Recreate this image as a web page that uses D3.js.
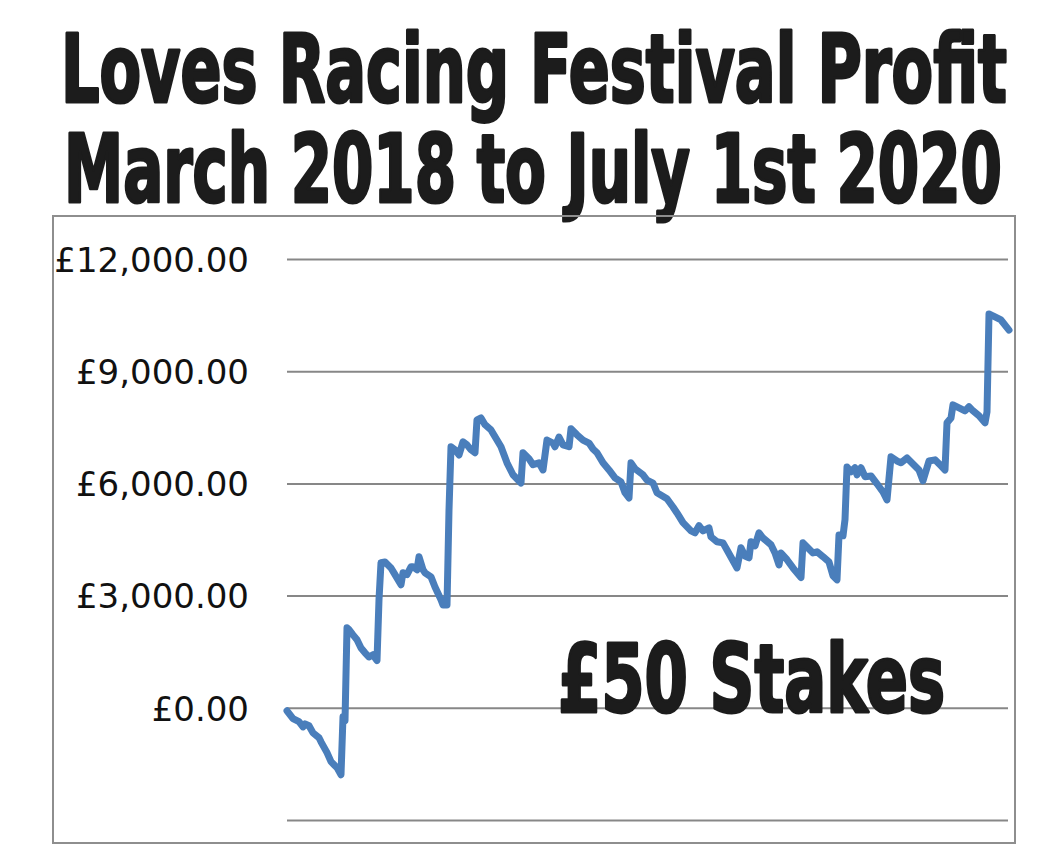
<!DOCTYPE html>
<html>
<head>
<meta charset="utf-8">
<script src="https://cdn.jsdelivr.net/npm/d3@7"></script>
<style>
html,body{margin:0;padding:0;background:#fff;}
svg{display:block;}
</style>
</head>
<body>
<svg id="chart" width="1060" height="857"></svg>
<script>
// ---- data ----
const titleLines = ["Loves Racing Festival Profit", "March 2018 to July 1st 2020"];
const stakeLabel = "£50 Stakes";
const tickValues = [-3000, 0, 3000, 6000, 9000, 12000];
const labelledTicks = [0, 3000, 6000, 9000, 12000];
// bet number (x) and cumulative profit in £ (y)
const betNumber = [0,3,6,8,9,11,13,16,17,20,22,24,25,27,28,29,30,31,33,35,37,39,41,43,44,45,46,47,49,52,54,57,58,60,62,63,65,66,68,69,72,74,77,78,80,81,82,84,86,88,90,92,94,95,97,99,102,107,110,113,117,118,121,123,126,128,130,133,134,136,138,141,142,145,148,151,153,155,158,161,164,167,169,171,172,174,178,180,183,185,190,193,195,198,202,204,206,208,211,212,215,218,220,223,225,227,229,231,232,234,236,238,242,244,246,247,250,253,257,258,260,263,265,268,271,273,275,276,278,279,280,282,284,285,287,289,292,295,298,300,302,305,307,310,313,316,318,321,324,327,329,330,332,333,336,339,341,343,346,349,350,351,353,357,361];
const profit = [-80,-290,-370,-510,-430,-480,-670,-800,-910,-1200,-1440,-1550,-1600,-1790,-240,-350,2140,2090,1950,1820,1600,1470,1360,1420,1340,1260,2890,3880,3900,3740,3560,3290,3610,3560,3770,3770,3690,4040,3690,3610,3500,3230,2890,2750,2750,5290,6980,6900,6760,7110,7030,6900,6820,7700,7750,7570,7430,6980,6550,6230,6010,6820,6660,6500,6550,6360,7160,7080,6980,7240,7030,6980,7460,7300,7160,7080,6920,6820,6550,6360,6150,6040,5750,5610,6550,6390,6230,6090,6010,5750,5590,5370,5210,4950,4730,4680,4870,4730,4810,4570,4440,4410,4220,3930,3740,4280,4060,4010,4440,4330,4680,4540,4360,4140,3820,4140,3960,3740,3480,4410,4300,4140,4170,4040,3900,3530,3420,4620,4600,5030,6440,6310,6420,6230,6420,6180,6200,5990,5770,5560,6710,6600,6550,6680,6520,6360,6070,6600,6630,6470,6360,7620,7750,8100,8020,7940,8050,7940,7810,7620,7910,10530,10480,10370,10100];

const series = betNumber.map((b, i) => ({bet: b, value: profit[i]}));

// ---- drawing ----
const svg = d3.select("#chart");
const W = 1060, H = 857;
svg.append("rect").attr("width", W).attr("height", H).attr("fill", "#fff");

const textColor = "#1c1c1c";
const heavyFont = "'DejaVu Sans Condensed', 'DejaVu Sans', 'Liberation Sans', sans-serif";

// condensed heavy text: width fitted by font size, height by vertical scale
function heavyText(str, x, yBase, width, capSize) {
  const g = svg.append("g");
  const t = g.append("text")
    .attr("x", 0).attr("y", 0)
    .attr("font-family", heavyFont)
    .attr("font-weight", "bold")
    .attr("font-size", 50)
    .attr("fill", textColor)
    .attr("stroke", textColor)
    .attr("stroke-width", 2)
    .attr("stroke-linejoin", "round")
    .text(str);
  const natural = t.node().getComputedTextLength();
  const fs = 50 * width / natural;
  t.attr("font-size", fs).attr("stroke-width", 2.2 * fs / capSize * (capSize / 95));
  const sy = capSize / fs;
  g.attr("transform", `translate(${x},${yBase}) scale(1,${sy})`);
  t.attr("stroke-width", 2.6 / Math.sqrt(sy));
  return t;
}

// title
heavyText(titleLines[0], 61, 102, 946, 95);
heavyText(titleLines[1], 64, 202, 938, 95);

// chart frame
svg.append("rect")
  .attr("x", 53).attr("y", 216)
  .attr("width", 962).attr("height", 627)
  .attr("fill", "none")
  .attr("stroke", "#8e8e8e")
  .attr("stroke-width", 2);

const x = d3.scaleLinear().domain([0, 361]).range([287, 1009]);
const y = d3.scaleLinear().domain([-3000, 12000]).range([820, 259]);

// gridlines via axis
const grid = svg.append("g")
  .attr("transform", "translate(287,0)")
  .call(d3.axisLeft(y).tickValues(tickValues).tickSize(-721).tickFormat(""));
grid.select(".domain").remove();
grid.selectAll(".tick line").attr("stroke", "#878787").attr("stroke-width", 2);

// tick labels
const fmt = d3.format(",.2f");
const labels = svg.append("g")
  .attr("transform", "translate(249,0)")
  .call(d3.axisLeft(y).tickValues(labelledTicks).tickSize(0).tickPadding(0)
    .tickFormat(d => "£" + fmt(d)));
labels.select(".domain").remove();
labels.selectAll(".tick text")
  .attr("font-family", "'DejaVu Sans', sans-serif")
  .attr("font-size", 34)
  .attr("fill", "#111")
  .attr("dy", "0.36em");

// line
const line = d3.line()
  .x(d => x(d.bet))
  .y(d => y(d.value))
  .curve(d3.curveLinear);
svg.append("path")
  .datum(series)
  .attr("d", line)
  .attr("fill", "none")
  .attr("stroke", "#4a7ebb")
  .attr("stroke-width", 7)
  .attr("stroke-linejoin", "round")
  .attr("stroke-linecap", "round");

// stake label
heavyText(stakeLabel, 558, 712, 387, 95);
</script>
</body>
</html>
